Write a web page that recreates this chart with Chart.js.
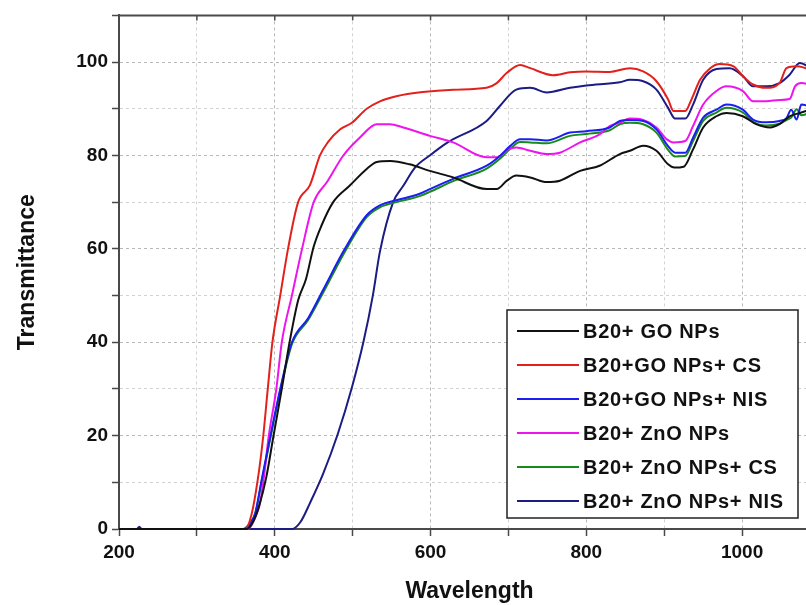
<!DOCTYPE html>
<html>
<head>
<meta charset="utf-8">
<script src="https://cdn.jsdelivr.net/npm/chart.js@4.4.1/dist/chart.umd.min.js"></script>
<style>
  html, body { margin: 0; padding: 0; background: #fff; overflow: hidden; }
  canvas { display: block; }
</style>
</head>
<body>
<canvas id="transChart" width="830" height="605"></canvas>
<script>
// UV-Vis transmittance spectra (wavelength in nm, transmittance in %)
const seriesLabels = [
    'B20+ GO NPs',
    'B20+GO NPs+ CS',
    'B20+GO NPs+ NIS',
    'B20+ ZnO NPs',
    'B20+ ZnO NPs+ CS',
    'B20+ ZnO NPs+ NIS'
];
const seriesColors = ['#111111', '#e3211c', '#1a1ef0', '#ee14ee', '#178a1c', '#1c1c84'];

const goNm = [200, 364, 372, 380, 389, 398, 409, 419, 430, 440, 450, 460, 475, 496, 518, 531, 548, 573, 599, 629, 672, 685, 698, 710, 728, 749, 766, 792, 817, 843, 856, 873, 890, 905, 913, 925, 937, 950, 967, 980, 1001, 1018, 1036, 1048, 1061, 1074, 1100];
const goT  = [0, 0, 1.5, 5, 11, 19.6, 30, 40, 49, 53.5, 60.5, 65, 70, 73.5, 77.1, 78.6, 78.8, 78.1, 76.7, 75.3, 72.8, 72.8, 74.6, 75.7, 75.3, 74.3, 74.6, 76.7, 77.8, 80.3, 81, 82.1, 81, 78.1, 77.4, 77.6, 81.3, 86, 88.4, 89.1, 88.4, 86.7, 86, 86.7, 88.4, 89.1, 90.5];

const goCsNm = [200, 362, 370, 378, 385, 391, 397, 407, 417, 430, 445, 458, 468, 484, 499, 518, 535, 556, 590, 629, 672, 685, 698, 715, 728, 757, 779, 800, 830, 856, 873, 890, 905, 912, 927, 935, 946, 959, 971, 989, 1001, 1014, 1031, 1048, 1057, 1070, 1100];
const goCsT  = [0, 0, 3, 10.4, 19.6, 30, 40, 50, 60, 70, 73.6, 80, 82.8, 85.6, 87, 90, 91.6, 92.7, 93.6, 94.1, 94.5, 95.5, 97.7, 99.4, 98.7, 97.2, 97.8, 98, 97.9, 98.7, 98, 95.9, 92, 89.5, 89.5, 92, 96.2, 98.7, 99.6, 99.1, 97, 95.2, 94.5, 95.5, 98.7, 99.1, 97.5];

const goNisNm = [200, 360, 370, 375, 383, 394, 407, 422, 443, 462, 490, 518, 535, 556, 586, 599, 629, 672, 689, 702, 715, 728, 749, 779, 800, 830, 843, 856, 873, 890, 905, 914, 927, 937, 950, 967, 980, 1001, 1014, 1031, 1048, 1057, 1063, 1070, 1076, 1100];
const goNisT  = [0, 0, 1.5, 3.4, 10.4, 19.6, 30, 40, 45.2, 51.2, 60, 67.2, 69.3, 70.4, 71.8, 72.8, 75, 77.8, 79.9, 82, 83.5, 83.5, 83.2, 84.9, 85.2, 86, 87.4, 87.6, 87.4, 85.6, 82, 80.6, 80.6, 83.8, 88.1, 89.8, 90.9, 89.8, 87.7, 87.1, 87.4, 88, 89.8, 87.7, 90.9, 89.5];

const znoNm = [200, 366, 375, 381, 386, 392, 402, 409, 422, 435, 450, 467, 488, 509, 531, 548, 565, 599, 629, 672, 685, 700, 710, 728, 749, 766, 792, 817, 830, 843, 856, 873, 890, 903, 912, 927, 937, 950, 967, 980, 1001, 1014, 1031, 1048, 1061, 1068, 1076, 1100];
const znoT  = [0, 0, 2.5, 5.5, 11, 19.6, 30, 40, 50, 60, 70, 74.3, 80, 83.8, 86.7, 86.7, 86, 84.2, 82.8, 79.6, 79.6, 81.3, 81.7, 81, 80.3, 80.6, 82.8, 84.5, 86.3, 87, 87.9, 87.6, 86, 83.5, 82.8, 83.1, 86.3, 90.9, 93.8, 94.8, 93.8, 91.6, 91.6, 91.9, 92.1, 94.8, 95.5, 94.5];

const znoCsNm = [200, 359, 369, 375, 383, 394, 407, 422, 443, 462, 490, 518, 535, 556, 586, 599, 629, 672, 689, 702, 715, 728, 749, 779, 800, 830, 843, 856, 873, 890, 905, 914, 927, 937, 950, 967, 980, 1001, 1014, 1031, 1048, 1057, 1063, 1070, 1076, 1100];
const znoCsT  = [0, 0, 1.5, 3.4, 10, 19.2, 29.6, 39.6, 44.8, 50.6, 59.4, 66.8, 68.9, 70, 71.3, 72.2, 74.5, 77.2, 79.3, 81.4, 82.9, 82.8, 82.6, 84.2, 84.6, 85.4, 86.7, 87, 86.7, 84.9, 81.2, 79.8, 79.9, 83.1, 87.4, 89.2, 90.2, 89.2, 87.2, 86.4, 86.8, 87.6, 88.1, 89.9, 88.6, 90.5];

const znoNisNm = [200, 223, 226, 229, 422, 433, 445, 462, 481, 499, 514, 526, 535, 552, 565, 580, 599, 622, 672, 689, 710, 728, 749, 779, 800, 843, 856, 873, 890, 905, 914, 927, 937, 950, 967, 984, 1001, 1014, 1031, 1048, 1061, 1074, 1100];
const znoNisT  = [0, 0, 0.5, 0, 0, 1.5, 5.5, 11.8, 20.4, 30.3, 40.2, 50.1, 59.4, 70, 73.5, 77.4, 80, 82.8, 87.4, 90.6, 94.1, 94.5, 93.5, 94.5, 95, 95.7, 96.2, 95.9, 94.1, 90.2, 87.9, 87.9, 90.9, 96.2, 98.5, 98.7, 97, 94.8, 94.8, 95.5, 97.3, 99.8, 97];

const xTicksMajor = [200, 400, 600, 800, 1000];
const yTicksMajor = [0, 20, 40, 60, 80, 100];

const spectra = [
    [goNm, goT], [goCsNm, goCsT], [goNisNm, goNisT],
    [znoNm, znoT], [znoCsNm, znoCsT], [znoNisNm, znoNisT]
];

const boldFont = 'Liberation Sans, Arial, sans-serif';
const axisColor = '#4a4a4a';

// frame line across the top of the plot, with small inward ticks
const topFrame = {
    id: 'topFrame',
    afterDraw(chart) {
        const { ctx, chartArea } = chart;
        const xs = chart.scales.x;
        ctx.save();
        ctx.strokeStyle = axisColor;
        ctx.lineWidth = 2;
        ctx.beginPath();
        ctx.moveTo(chartArea.left - 1, chartArea.top);
        ctx.lineTo(chartArea.right, chartArea.top);
        ctx.stroke();
        ctx.lineWidth = 1.5;
        xs.ticks.forEach(t => {
            const px = xs.getPixelForValue(t.value);
            ctx.beginPath();
            ctx.moveTo(px, chartArea.top);
            ctx.lineTo(px, chartArea.top + 5);
            ctx.stroke();
        });
        ctx.restore();
    }
};

// boxed legend sitting inside the plot, lower right
const boxLegend = {
    id: 'boxLegend',
    afterDraw(chart) {
        const { ctx } = chart;
        const x0 = 507, y0 = 310, w = 291, h = 208, row = 34;
        ctx.save();
        ctx.fillStyle = '#fff';
        ctx.fillRect(x0, y0, w, h);
        ctx.strokeStyle = '#222';
        ctx.lineWidth = 1.5;
        ctx.strokeRect(x0, y0, w, h);
        ctx.font = 'bold 20px ' + boldFont;
        ctx.textBaseline = 'middle';
        ctx.letterSpacing = '0.7px';
        chart.data.datasets.forEach((ds, i) => {
            const y = y0 + 21 + i * row;
            ctx.strokeStyle = ds.borderColor;
            ctx.lineWidth = 2;
            ctx.beginPath();
            ctx.moveTo(x0 + 10, y);
            ctx.lineTo(x0 + 72, y);
            ctx.stroke();
            ctx.fillStyle = '#111';
            ctx.fillText(ds.label, x0 + 76, y + 1);
        });
        ctx.restore();
    }
};

const gridFor = majors => ({
    color: c => majors.includes(c.tick && c.tick.value) ? '#b8b8b8' : '#d2d2d2',
    tickColor: axisColor,
    tickLength: 7,
    tickWidth: 1.5
});

const ctx = document.getElementById('transChart').getContext('2d');
new Chart(ctx, {
    type: 'line',
    data: {
        datasets: spectra.map(([nm, t], i) => ({
            label: seriesLabels[i],
            data: nm.map((x, j) => ({ x: x, y: t[j] })),
            borderColor: seriesColors[i],
            backgroundColor: seriesColors[i],
            borderWidth: 2,
            pointRadius: 0,
            cubicInterpolationMode: 'monotone',
            clip: { left: 0, top: 2, right: 0, bottom: 3 }
        }))
    },
    options: {
        responsive: false,
        devicePixelRatio: 1,
        animation: false,
        layout: { padding: { left: 0, top: 10, right: 10, bottom: 0 } },
        plugins: {
            legend: { display: false },
            tooltip: { enabled: false }
        },
        scales: {
            x: {
                type: 'linear',
                min: 200,
                max: 1100,
                afterFit: s => { s.height = 76; },
                border: { color: axisColor, width: 2, dash: [3, 3] },
                grid: gridFor(xTicksMajor),
                ticks: {
                    stepSize: 100,
                    autoSkip: false,
                    maxRotation: 0,
                    padding: 5,
                    color: '#111',
                    font: { family: boldFont, size: 19, weight: 'bold' },
                    callback: v => xTicksMajor.includes(v) ? String(v) : ''
                },
                title: {
                    display: true,
                    text: 'Wavelength',
                    color: '#111',
                    padding: { top: 0, bottom: 0 },
                    font: { family: boldFont, size: 23, weight: 'bold' }
                }
            },
            y: {
                min: 0,
                max: 110,
                afterFit: s => { s.width = 119; },
                border: { color: axisColor, width: 2, dash: [3, 3] },
                grid: gridFor(yTicksMajor),
                ticks: {
                    stepSize: 10,
                    autoSkip: false,
                    padding: 4,
                    color: '#111',
                    font: { family: boldFont, size: 19, weight: 'bold' },
                    callback: v => yTicksMajor.includes(v) ? String(v) : ''
                },
                title: {
                    display: true,
                    text: 'Transmittance',
                    color: '#111',
                    padding: { top: 14, bottom: 0 },
                    font: { family: boldFont, size: 23, weight: 'bold' }
                }
            }
        }
    },
    plugins: [topFrame, boxLegend]
});
</script>
</body>
</html>
